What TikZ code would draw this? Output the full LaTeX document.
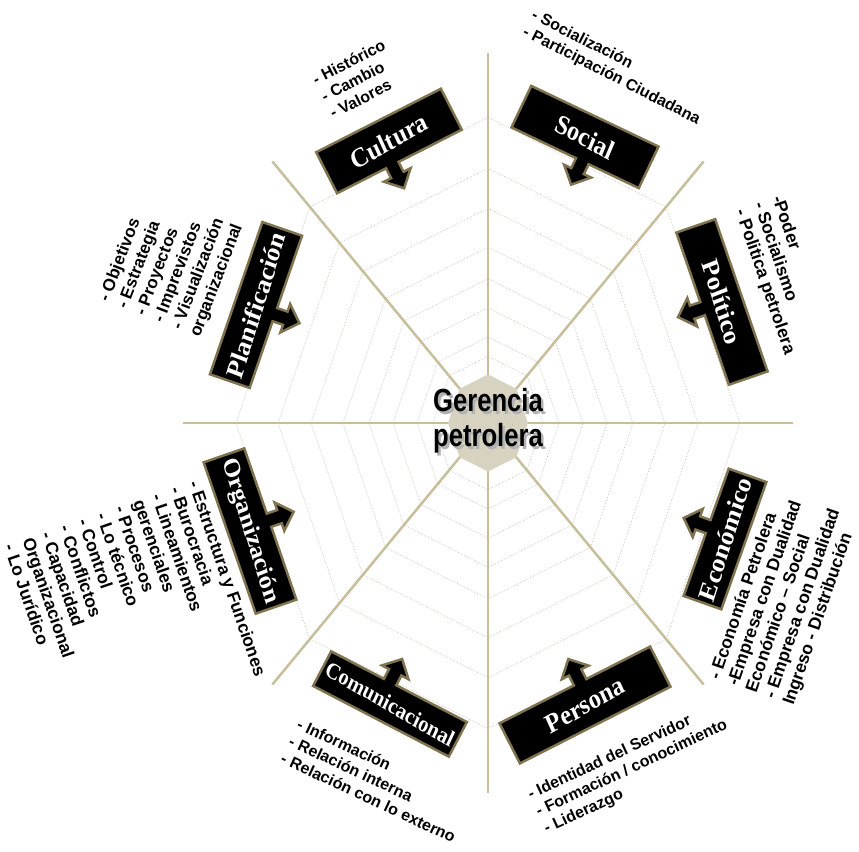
\documentclass[tikz,border=0pt]{standalone}
\usepackage{fontspec}
\setmainfont{Liberation Serif}
\newfontfamily\listfont{Liberation Sans}
\definecolor{spokecol}{RGB}{200,190,155}
\definecolor{ringcol}{RGB}{196,192,172}
\definecolor{rimcol}{RGB}{128,116,80}
\definecolor{hubcol}{RGB}{216,211,192}

% black box with a small block arrow: name, centre, angle, side, half width, half height, arrow offset, text
\newcommand{\callout}[8]{%
	\begin{scope}[shift={#2},rotate=#3,yscale=#4]
		\draw[calloutbox] (-#5,#6) -- (#5,#6) -- (#5,-#6) -- (#7+7,-#6) -- (#7+7,-#6-11)
			-- (#7+15,-#6-11) -- (#7,-#6-26) -- (#7-15,-#6-11) -- (#7-7,-#6-11) -- (#7-7,-#6)
			-- (-#5,-#6) -- cycle;
	\end{scope}
	\node[boxlabel,rotate=#3] (#1) at #2 {#8};
}

\begin{document}
\begin{tikzpicture}[x=1pt,y=1pt]
	\tikzstyle{every node}=[]
	\tikzstyle{spoke}=[spokecol, line width=2.5pt]
	\tikzstyle{ring}=[ringcol, line width=0.6pt, densely dotted]
	\tikzstyle{calloutbox}=[fill=black, draw=rimcol, line width=2.5pt, line join=miter]
	\tikzstyle{boxlabel}=[text=white, inner sep=0pt, yscale=1.12, font=\bfseries\fontsize{24.5}{24.5}\selectfont]
	\tikzstyle{hub}=[align=center, inner sep=0pt, xscale=0.8, font=\listfont\bfseries\fontsize{32}{35}\selectfont]
	\tikzstyle{items}=[anchor=west, align=left, inner sep=0pt, font=\listfont\bfseries\fontsize{16}{19}\selectfont]
	\tikzstyle{bigitems}=[items, font=\listfont\bfseries\fontsize{17.5}{19.5}\selectfont]

	\useasboundingbox (-488,-428) rectangle (371,423);

	% the web
	\begin{scope}[yscale=1.213]
		\foreach \r in {55,71,95,119,145,177,210,252}
			\draw[ring] (0:\r) \foreach \a in {45,90,...,315} {-- (\a:\r)} -- cycle;
		\foreach \a in {0,45,...,315}
			\draw[spoke] (0,0) -- (\a:305);
		\fill[hubcol] (0:40) \foreach \a in {45,90,...,315} {-- (\a:40)} -- cycle;
		\draw[ring] (0:25) \foreach \a in {45,90,...,315} {-- (\a:25)} -- cycle;
	\end{scope}

	\node[hub, text=black!30] (shadow) at (2.5,-0.5) {Gerencia\\petrolera};
	\node[hub] (gerencia) at (0,2) {Gerencia\\petrolera};

	% boxes
	\callout{cultura}{(-99,282)}{27}{1}{70}{23}{-8}{Cultura}
	\callout{social}{(97,286)}{-25.5}{1}{70.5}{23}{8}{Social}
	\callout{politico}{(234,121)}{-71}{1}{80.5}{20.5}{0}{Político}
	\callout{economico}{(237,-116)}{70.5}{-1}{67.5}{20}{6}{Económico}
	\callout{persona}{(97,-282)}{27}{-1}{84.5}{22.5}{6}{Persona}
	\callout{comunicacional}{(-98,-281)}{-27.5}{-1}{76.5}{19.5}{-10}{\fontsize{20.5}{20.5}\selectfont Comunicacional}
	\callout{organizacion}{(-238,-108)}{-71}{-1}{80}{21.5}{-4}{\fontsize{23.5}{23.5}\selectfont Organización}
	\callout{planificacion}{(-232,118)}{71}{1}{80.5}{21}{-3}{Planificación}

	% lists
	\node[items, rotate=27] (culturaitems) at (-166,326) {- Histórico\\- Cambio\\- Valores};
	\node[items, rotate=-27] (socialitems) at (40,400) {- Socialización\\- Participación Ciudadana};
	\node[items, font=\listfont\bfseries\fontsize{17}{19.5}\selectfont, rotate=69] (planificacionitems) at (-338,104)
		{- Objetivos\\- Estrategia\\- Proyectos\\- Imprevistos\\- Visualización\\organizacional};
	\node[bigitems, rotate=-71] (politicoitems) at (270,220) {-Poder\\- Socialismo\\- Politica petrolera};
	\node[bigitems, rotate=71] (economicoitems) at (264,-269)
		{- Economía Petrolera\\-Empresa con Dualidad\\Económico – Social\\- Empresa con Dualidad\\Ingreso - Distribución};
	\node[items, rotate=25] (personaitems) at (49,-390) {- Identidad del Servidor\\- Formación / conocimiento\\- Liderazgo};
	\node[items, rotate=-25] (comunicacionalitems) at (-198,-317) {- Información\\- Relación interna\\- Relación con lo externo};
	\node[bigitems, rotate=-71] (organizacionitems) at (-386,-90)
		{- Estructura y Funciones\\- Burocracia\\- Lineamientos\\gerenciales\\- Procesos\\- Lo técnico\\- Control\\- Conflictos\\- Capacidad\\Organizacional\\- Lo Jurídico};
\end{tikzpicture}
\end{document}
